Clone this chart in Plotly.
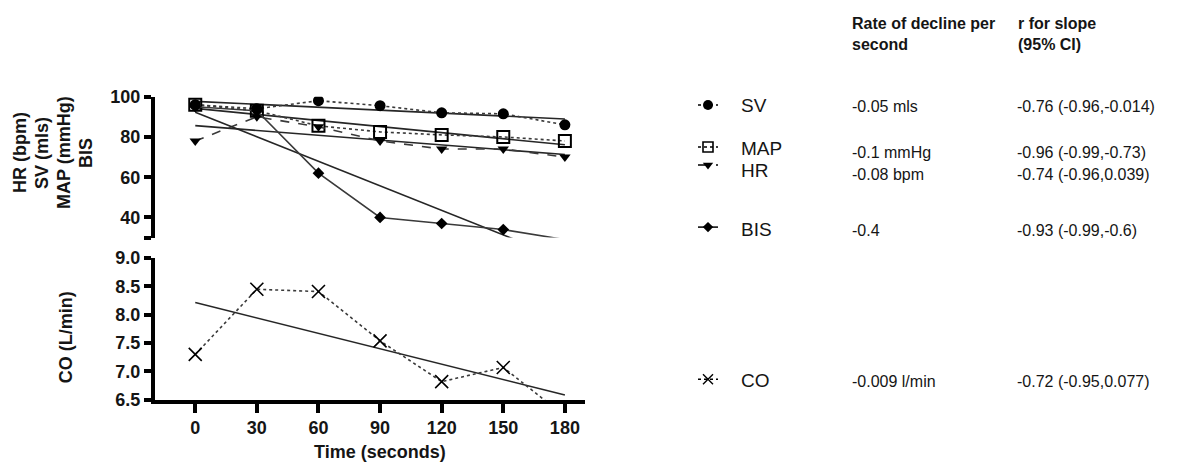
import numpy as np
import plotly.graph_objects as go

W, H = 1194, 464

# ---------------- data ----------------
time_s = [0, 30, 60, 90, 120, 150, 180]
sv = [96, 94, 98, 95.5, 92, 91.5, 86]
map_ = [96, 93, 85.5, 82.5, 81, 80, 78]
hr = [78, 90, 85, 78, 74, 74, 70]
bis = [95, 93, 62, 40, 37, 34, 29]
co = [7.30, 8.45, 8.41, 7.54, 6.82, 7.07, 6.21]

top_ticks = [30, 40, 60, 80, 100]
top_ticktext = ["", "40", "60", "80", "100"]
co_ticks = [6.5, 7.0, 7.5, 8.0, 8.5, 9.0]
x_ticks = [0, 30, 60, 90, 120, 150, 180]

legend_names = ["SV", "MAP", "HR", "BIS", "CO"]
rate_text = ["-0.05 mls", "-0.1 mmHg", "-0.08 bpm", "-0.4", "-0.009 l/min"]
r_text = ["-0.76 (-0.96,-0.014)", "-0.96 (-0.99,-0.73)", "-0.74 (-0.96,0.039)",
          "-0.93 (-0.99,-0.6)", "-0.72 (-0.95,0.077)"]

# ---------------- layout helpers (target picture pixel -> paper fraction) ----------------
# calibrated to how the page is photographed (body margin and vertical fit)
X_OFF = 8.0
Y_OFF, Y_SCALE = 18.1, 0.956

def px_x(p):
    return (p - X_OFF) / W

def div_y(p):
    return (p - Y_OFF) / Y_SCALE

def px_y(p):
    return 1 - div_y(p) / H

FONT = "Liberation Sans, Arial, sans-serif"
INK = "#151515"
LINE_C = "#3a3a3a"

XR = [-19.6, 189.8]
TOP_R = [30, 100]
BOT_R = [6.5, 9.0]

fig = go.Figure()

series_top = [
    ("SV", sv, dict(symbol="circle", size=11, color="black"), "dot"),
    ("MAP", map_, dict(symbol="square-open", size=12, color="black", line=dict(width=2, color="black")), "dot"),
    ("HR", hr, dict(symbol="triangle-down", size=10, color="black"), "dash"),
    ("BIS", bis, dict(symbol="diamond", size=9, color="black"), "solid"),
]

t = np.array(time_s, dtype=float)

for name, vals, mk, dash in series_top:
    v = np.array(vals, dtype=float)
    # linear regression line through the data
    slope, icpt = np.polyfit(t, v, 1)
    fig.add_trace(go.Scatter(x=t, y=icpt + slope * t, mode="lines", xaxis="x2", yaxis="y2",
                             line=dict(color="#262626", width=1.6), showlegend=False, hoverinfo="skip"))
    fig.add_trace(go.Scatter(x=t, y=v, mode="lines", xaxis="x2", yaxis="y2",
                             line=dict(color=LINE_C, width=1.6, dash=dash), showlegend=False))
    inside = (v >= TOP_R[0]) & (v <= TOP_R[1])
    fig.add_trace(go.Scatter(x=t[inside], y=v[inside], mode="markers", xaxis="x2", yaxis="y2",
                             marker=mk, showlegend=False, name=name))

c = np.array(co, dtype=float)
slope, icpt = np.polyfit(t, c, 1)
fig.add_trace(go.Scatter(x=t, y=icpt + slope * t, mode="lines", xaxis="x", yaxis="y",
                         line=dict(color="#262626", width=1.6), showlegend=False, hoverinfo="skip"))
fig.add_trace(go.Scatter(x=t, y=c, mode="lines", xaxis="x", yaxis="y",
                         line=dict(color=LINE_C, width=1.6, dash="dot"), showlegend=False))
inside = (c >= BOT_R[0]) & (c <= BOT_R[1])
fig.add_trace(go.Scatter(x=t[inside], y=c[inside], mode="markers", xaxis="x", yaxis="y",
                         marker=dict(symbol="x-thin-open", size=13, color="black",
                                     line=dict(width=1.6, color="#222")),
                         showlegend=False, name="CO"))

# ---------------- custom legend / table on the right ----------------
swatch_y = [105, 147, 165, 227, 379]
label_y = [106, 148, 170, 229, 380]
value_y = [107, 152, 174, 230, 381]
sw_markers = [
    dict(symbol="circle", size=10, color="black"),
    dict(symbol="square-open", size=10, color="black", line=dict(width=1.6, color="black")),
    dict(symbol="triangle-down", size=9, color="black"),
    dict(symbol="diamond", size=8, color="black"),
    dict(symbol="x-thin-open", size=10, color="black", line=dict(width=1.4, color="black")),
]
sw_dash = ["dot", "dot", "dash", "solid", "dot"]
for i in range(len(legend_names)):
    yy = div_y(swatch_y[i])
    fig.add_trace(go.Scatter(x=[698 - X_OFF, 718 - X_OFF], y=[yy, yy], mode="lines",
                             xaxis="x3", yaxis="y3",
                             line=dict(color="black", width=1.5, dash=sw_dash[i]),
                             showlegend=False, hoverinfo="skip"))
    fig.add_trace(go.Scatter(x=[708 - X_OFF], y=[yy], mode="markers", xaxis="x3", yaxis="y3",
                             marker=sw_markers[i], showlegend=False, hoverinfo="skip"))

annotations = []
for i, nm in enumerate(legend_names):
    annotations.append(dict(x=px_x(739), y=px_y(label_y[i]), xref="paper", yref="paper",
                            text=nm, showarrow=False, xanchor="left", yanchor="middle",
                            font=dict(family=FONT, size=19, color=INK)))
    annotations.append(dict(x=px_x(850), y=px_y(value_y[i]), xref="paper", yref="paper",
                            text=rate_text[i], showarrow=False, xanchor="left", yanchor="middle",
                            font=dict(family=FONT, size=16, color=INK)))
    annotations.append(dict(x=px_x(1015), y=px_y(value_y[i]), xref="paper", yref="paper",
                            text=r_text[i], showarrow=False, xanchor="left", yanchor="middle",
                            font=dict(family=FONT, size=16, color=INK)))

hdr_font = dict(family=FONT, size=16, color=INK, weight="bold")
annotations.append(dict(x=px_x(850), y=px_y(34), xref="paper", yref="paper",
                        text="Rate of decline per<br>second", showarrow=False, xanchor="left",
                        yanchor="middle", align="left", font=hdr_font))
annotations.append(dict(x=px_x(1016), y=px_y(34), xref="paper", yref="paper",
                        text="r for slope<br>(95% CI)", showarrow=False, xanchor="left",
                        yanchor="middle", align="left", font=hdr_font))

# axis titles
title_font = dict(family=FONT, size=18, color=INK, weight="bold")
ytitle_lines = ["HR (bpm)", "SV (mls)", "MAP (mmHg)", "BIS"]
ytitle_x = [20, 42, 64, 86]
for txt, xx in zip(ytitle_lines, ytitle_x):
    annotations.append(dict(x=px_x(xx), y=px_y(153), xref="paper", yref="paper", text=txt,
                            textangle=-90, showarrow=False, xanchor="center", yanchor="middle",
                            font=title_font))
annotations.append(dict(x=px_x(66), y=px_y(337), xref="paper", yref="paper", text="CO (L/min)",
                        textangle=-90, showarrow=False, xanchor="center", yanchor="middle",
                        font=title_font))
annotations.append(dict(x=px_x(380), y=px_y(452), xref="paper", yref="paper", text="Time (seconds)",
                        showarrow=False, xanchor="center", yanchor="middle", font=title_font))

tick_font = dict(family=FONT, size=18, color=INK, weight="bold")
axis_common = dict(showgrid=False, zeroline=False, showline=True, linecolor="black", linewidth=4,
                   ticks="outside", tickcolor="black", tickwidth=4, tickfont=tick_font)

x_dom = [px_x(155), px_x(585)]

fig.update_layout(
    width=W, height=H, autosize=False,
    margin=dict(l=0, r=0, t=0, b=0),
    paper_bgcolor="white", plot_bgcolor="rgba(0,0,0,0)",
    showlegend=False,
    xaxis=dict(domain=x_dom, range=XR, anchor="y", tickvals=x_ticks, ticklen=9, **axis_common),
    yaxis=dict(domain=[px_y(399.5), px_y(258)], range=BOT_R, anchor="x", tickvals=co_ticks,
               tickformat=".1f", ticklen=7, **axis_common),
    xaxis2=dict(domain=x_dom, range=XR, anchor="y2", visible=False),
    yaxis2=dict(domain=[px_y(237.5), px_y(96.7)], range=TOP_R, anchor="x2", tickvals=top_ticks,
                ticktext=top_ticktext, ticklen=7, **axis_common),
    xaxis3=dict(domain=[0, 1], range=[0, W], anchor="y3", visible=False),
    yaxis3=dict(domain=[0, 1], range=[H, 0], anchor="x3", visible=False),
    annotations=annotations,
)

fig.write_html("out.html")
